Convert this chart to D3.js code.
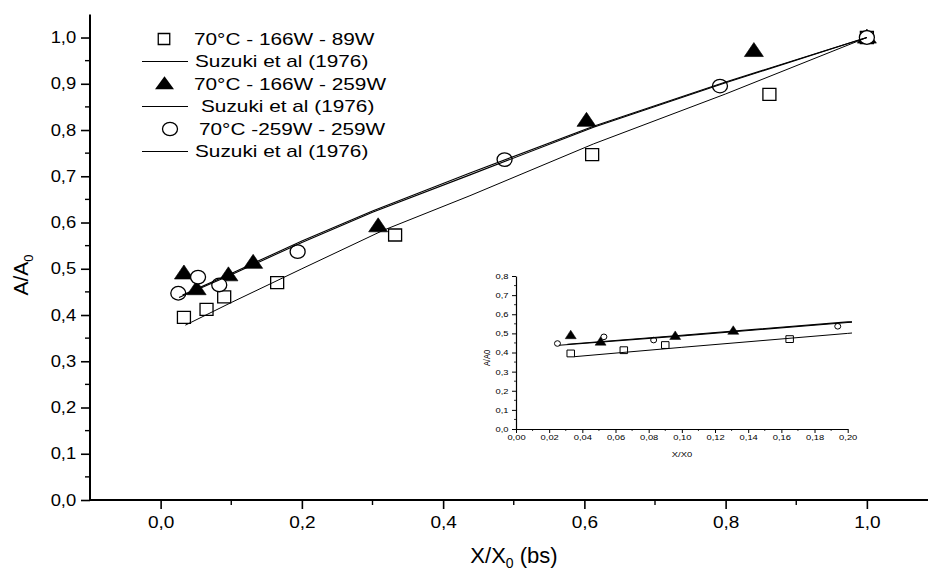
<!DOCTYPE html>
<html><head><meta charset="utf-8">
<script src="https://cdn.jsdelivr.net/npm/d3@7"></script>
<style>
body{margin:0;background:#fff}
svg{display:block}
text{font-family:"Liberation Sans",Arial,sans-serif;fill:#000}
</style>
</head><body>
<svg id="c" width="928" height="570"></svg>
<script>
// ---------- data ----------
const sqX  = [0.033,0.065,0.090,0.165,0.332,0.611,0.862,1.000];
const sqY  = [0.395,0.412,0.439,0.470,0.573,0.747,0.877,1.000];
const triX = [0.033,0.051,0.096,0.131,0.308,0.603,0.840,1.000];
const triY = [0.490,0.456,0.486,0.513,0.592,0.820,0.971,1.000];
const cirX = [0.025,0.053,0.083,0.194,0.487,0.792,1.000];
const cirY = [0.447,0.482,0.465,0.537,0.736,0.895,1.000];
// Suzuki et al (1976) curves
const suz1X = [0.035,0.100,0.200,0.315,0.438,0.613,0.800,1.000];
const suz1Y = [0.378,0.427,0.500,0.583,0.658,0.770,0.878,1.000];
const suz2X = [0.031,0.100,0.200,0.300,0.438,0.613,0.800,1.000];
const suz2Y = [0.443,0.490,0.560,0.625,0.707,0.808,0.904,1.000];
const suz3X = [0.026,0.100,0.200,0.300,0.438,0.613,0.800,1.000];
const suz3Y = [0.438,0.487,0.557,0.622,0.703,0.806,0.902,1.000];

const legendLabels = ["70°C - 166W - 89W","Suzuki et al (1976)","70°C - 166W - 259W","Suzuki et al (1976)","70°C -259W - 259W","Suzuki et al (1976)"];
const mainXTicks = [0.0,0.2,0.4,0.6,0.8,1.0];
const mainXMinor = [0.1,0.3,0.5,0.7,0.9];
const mainYTicks = [0.0,0.1,0.2,0.3,0.4,0.5,0.6,0.7,0.8,0.9,1.0];
const mainYMinor = [0.05,0.15,0.25,0.35,0.45,0.55,0.65,0.75,0.85,0.95];
const insetXTicks = [0.00,0.02,0.04,0.06,0.08,0.10,0.12,0.14,0.16,0.18,0.20];
const insetXMinor = [0.01,0.03,0.05,0.07,0.09,0.11,0.13,0.15,0.17,0.19];
const insetYTicks = [0.0,0.1,0.2,0.3,0.4,0.5,0.6,0.7,0.8];
const insetYMinor = [0.05,0.15,0.25,0.35,0.45,0.55,0.65,0.75];

// ---------- helpers ----------
const zip = (xs,ys)=>xs.map((x,i)=>({x:x,y:ys[i]}));
const squares = zip(sqX,sqY), triangles = zip(triX,triY), circles = zip(cirX,cirY);
const suz = [zip(suz1X,suz1Y), zip(suz2X,suz2Y), zip(suz3X,suz3Y)];
const comma = f => v => d3.format(f)(v).replace(".",",");

function sqPath(w,h){return `M${-w/2},${-h/2}h${w}v${h}h${-w}Z`;}
function triPath(w,h){return `M0,${-h*0.6}L${w/2},${h*0.4}L${-w/2},${h*0.4}Z`;}
function ellPath(rx,ry){return `M${-rx},0a${rx},${ry} 0 1,0 ${2*rx},0a${rx},${ry} 0 1,0 ${-2*rx},0Z`;}

const svg = d3.select("#c");

function drawMarkers(g, x, y, s){
  g.append("g").selectAll("path").data(squares.filter(d=>x.domain()[1]>=d.x)).join("path")
    .attr("d", sqPath(s.sqW,s.sqH)).attr("transform",d=>`translate(${x(d.x)},${y(d.y)})`)
    .attr("fill","#fff").attr("stroke","#000").attr("stroke-width",s.sw);
  g.append("g").selectAll("path").data(triangles.filter(d=>x.domain()[1]>=d.x)).join("path")
    .attr("d", triPath(s.trW,s.trH)).attr("transform",d=>`translate(${x(d.x)},${y(d.y)})`)
    .attr("fill","#000").attr("stroke","#000").attr("stroke-width",s.sw*0.5);
  g.append("g").selectAll("path").data(circles.filter(d=>x.domain()[1]>=d.x)).join("path")
    .attr("d", ellPath(s.crX,s.crY)).attr("transform",d=>`translate(${x(d.x)},${y(d.y)})`)
    .attr("fill","#fff").attr("stroke","#000").attr("stroke-width",s.sw);
}
function drawLines(g, x, y, widths){
  const line = d3.line().x(d=>x(d.x)).y(d=>y(d.y));
  suz.forEach((s,i)=>{
    g.append("path").datum(s).attr("d",line).attr("fill","none")
      .attr("stroke","#000").attr("stroke-width",widths[i]);
  });
}

// ---------- main chart ----------
const x = d3.scaleLinear().domain([-0.1,1.1]).range([90,937.5]);
const y = d3.scaleLinear().domain([0,1.05]).range([500,14.4]);

const main = svg.append("g");
drawMarkers(main, x, y, {sqW:13,sqH:12,trW:19,trH:14,crX:7.5,crY:6.8,sw:1.3});
drawLines(main, x, y, [1,1.1,1.1]);

// axes
const yAx = main.append("g").attr("transform","translate(90,0)")
  .call(d3.axisLeft(y).tickValues(mainYTicks).tickFormat(comma(".1f")).tickSize(9).tickSizeOuter(0).tickPadding(3));
yAx.select(".domain").attr("stroke-width",2).attr("d",`M0,${y(1.05)}V${y(0)}`);
yAx.selectAll(".tick line").attr("stroke-width",1.6);
yAx.selectAll(".tick text").attr("font-size",16).attr("font-family","Liberation Sans, Arial, sans-serif")
  .attr("transform","scale(1.15,1)");
yAx.append("g").selectAll("line").data(mainYMinor).join("line")
  .attr("x1",-5).attr("x2",0).attr("y1",d=>y(d)).attr("y2",d=>y(d)).attr("stroke","#000").attr("stroke-width",1.4);

const xAx = main.append("g").attr("transform","translate(0,500)")
  .call(d3.axisBottom(x).tickValues(mainXTicks).tickFormat(comma(".1f")).tickSize(9).tickSizeOuter(0).tickPadding(7));
xAx.select(".domain").attr("stroke-width",2).attr("d",`M89,0H928`);
xAx.selectAll(".tick line").attr("stroke-width",1.6);
xAx.selectAll(".tick text").attr("font-size",17).attr("font-family","Liberation Sans, Arial, sans-serif")
  .attr("transform","scale(1.12,1)");
xAx.append("g").selectAll("line").data(mainXMinor).join("line")
  .attr("x1",d=>x(d)).attr("x2",d=>x(d)).attr("y1",0).attr("y2",5).attr("stroke","#000").attr("stroke-width",1.4);

// axis titles
const xt = svg.append("text").attr("x",514).attr("y",563).attr("text-anchor","middle").attr("font-size",22);
xt.append("tspan").text("X/X");
xt.append("tspan").attr("font-size",14).attr("dy",5).text("0");
xt.append("tspan").attr("dy",-5).text(" (bs)");
const yt = svg.append("text").attr("transform","translate(28,275) rotate(-90)").attr("text-anchor","middle").attr("font-size",21);
yt.append("tspan").text("A/A");
yt.append("tspan").attr("font-size",13).attr("dy",5).text("0");

// legend
const legRowY = [39,61.5,84,106.5,129,151.5];
const legTextX = [194,195,194,201,199,195];
const leg = svg.append("g");
legendLabels.forEach((lab,i)=>{
  leg.append("text").attr("transform",`translate(${legTextX[i]},${legRowY[i]+5.6}) scale(1.3,1)`)
    .attr("font-size",16).text(lab);
});
leg.append("path").attr("d",sqPath(11.5,11)).attr("transform",`translate(164,${legRowY[0]})`).attr("fill","#fff").attr("stroke","#000").attr("stroke-width",1.3);
leg.append("path").attr("d",triPath(19,13)).attr("transform",`translate(164.5,${legRowY[2]})`).attr("fill","#000");
leg.append("path").attr("d",ellPath(7.5,6.6)).attr("transform",`translate(170,${legRowY[4]})`).attr("fill","#fff").attr("stroke","#000").attr("stroke-width",1.3);
[1,3,5].forEach(i=>{
  leg.append("line").attr("x1",142).attr("x2",188).attr("y1",legRowY[i]).attr("y2",legRowY[i]).attr("stroke","#000").attr("stroke-width",1);
});

// ---------- inset ----------
const xi = d3.scaleLinear().domain([0,0.2]).range([516,847.7]);
const yi = d3.scaleLinear().domain([0,0.8]).range([429,276]);
const inset = svg.append("g");
svg.append("defs").append("clipPath").attr("id","ic").append("rect")
  .attr("x",516).attr("y",270).attr("width",336).attr("height",162);
const ig = inset.append("g").attr("clip-path","url(#ic)");
drawMarkers(ig, xi, yi, {sqW:7.5,sqH:6.8,trW:11,trH:8.5,crX:3,crY:2.8,sw:1});
drawLines(ig, xi, yi, [1,1.1,1.1]);

const iyAx = inset.append("g").attr("transform","translate(516,0)")
  .call(d3.axisLeft(yi).tickValues(insetYTicks).tickFormat(comma(".1f")).tickSize(4).tickSizeOuter(0).tickPadding(2));
iyAx.select(".domain").attr("stroke-width",1.2);
iyAx.selectAll(".tick text").attr("font-size",7.5).attr("fill","#333").attr("font-family","Liberation Sans, Arial, sans-serif")
  .attr("transform","scale(1.25,1)");
iyAx.append("g").selectAll("line").data(insetYMinor).join("line")
  .attr("x1",-2).attr("x2",0).attr("y1",d=>yi(d)).attr("y2",d=>yi(d)).attr("stroke","#000").attr("stroke-width",0.8);

const ixAx = inset.append("g").attr("transform","translate(0,429)")
  .call(d3.axisBottom(xi).tickValues(insetXTicks).tickFormat(comma(".2f")).tickSize(4).tickSizeOuter(0).tickPadding(2));
ixAx.select(".domain").attr("stroke-width",1.2);
ixAx.selectAll(".tick text").attr("font-size",7.5).attr("fill","#333").attr("font-family","Liberation Sans, Arial, sans-serif")
  .attr("transform","scale(1.25,1)");
ixAx.append("g").selectAll("line").data(insetXMinor).join("line")
  .attr("x1",d=>xi(d)).attr("x2",d=>xi(d)).attr("y1",0).attr("y2",2).attr("stroke","#000").attr("stroke-width",0.8);

svg.append("text").attr("x",682).attr("y",457).attr("text-anchor","middle").attr("font-size",7.5).attr("fill","#333")
  .attr("transform","translate(682,0) scale(1.25,1) translate(-682,0)").text("X/X0");
svg.append("text").attr("transform","translate(490,358) rotate(-90) scale(1,1.25)").attr("text-anchor","middle")
  .attr("font-size",7.5).attr("fill","#333").text("A/A0");
</script>
</body></html>
